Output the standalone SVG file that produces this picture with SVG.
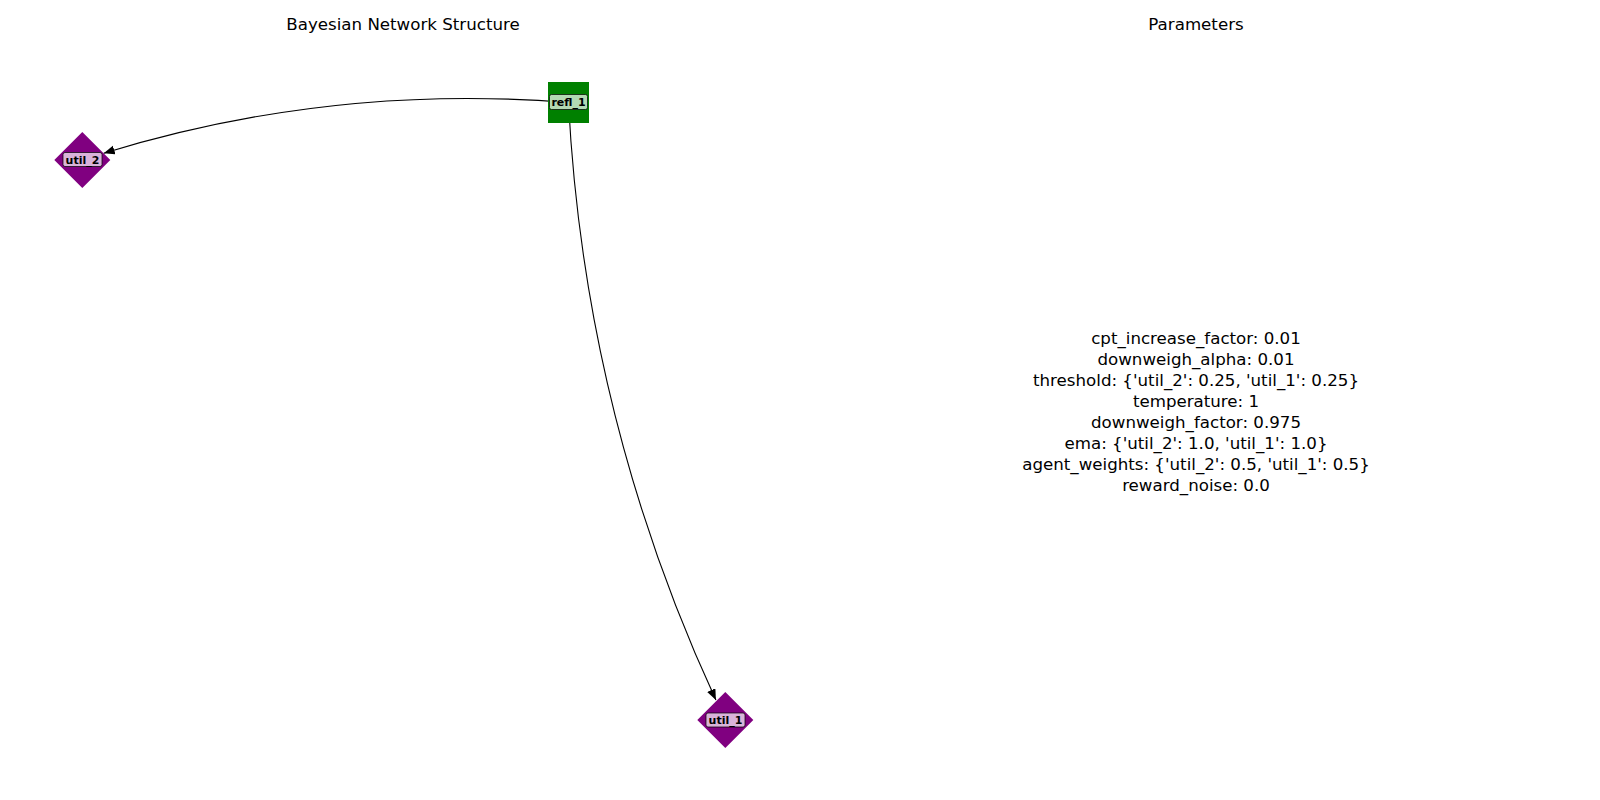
<svg xmlns="http://www.w3.org/2000/svg" width="1600" height="800" viewBox="0 0 1600 800">
<style>
.title{font-family:"DejaVu Sans",sans-serif;font-size:16.67px;fill:#000;text-anchor:middle}
.param{font-family:"DejaVu Sans",sans-serif;font-size:16.67px;fill:#000;text-anchor:middle}
.lbl{font-family:"DejaVu Sans",sans-serif;font-size:11px;font-weight:bold;fill:#000;text-anchor:middle}
.lblbox{fill:#fff;fill-opacity:0.7;stroke:#000;stroke-opacity:0.7;stroke-width:1}
.edge{fill:none;stroke:#000;stroke-width:1.1}
.util{fill:#800080}
.refl{fill:#008000}
</style>
<defs>
<marker id="arrow" markerUnits="userSpaceOnUse" markerWidth="12" markerHeight="10" refX="11" refY="4.5" orient="auto">
<path d="M0,0 L11,4.5 L0,9 z" fill="#000"/>
</marker>
</defs>
<rect x="0" y="0" width="1600" height="800" fill="#fff"/>
<text class="title" x="403" y="30">Bayesian Network Structure</text>
<text class="title" x="1196" y="30">Parameters</text>
<g id="edges">
<path class="edge" d="M568.5,102.5 Q330.8,83.5 103.7,153.2" marker-end="url(#arrow)"/>
<path class="edge" d="M568.5,102.5 Q584.6,415.9 715.9,700.1" marker-end="url(#arrow)"/>
</g>
<g id="node-refl_1">
<rect class="refl" x="548" y="82" width="41" height="41"/>
<rect class="lblbox" x="549.5" y="94.5" width="38" height="15" rx="2"/>
<text class="lbl" x="568.5" y="106">refl_1</text>
</g>
<g id="node-util_2">
<polygon class="util" points="82.3,132 110.3,160 82.3,188 54.3,160"/>
<rect class="lblbox" x="63" y="152.5" width="39" height="14" rx="2"/>
<text class="lbl" x="82.5" y="163.5">util_2</text>
</g>
<g id="node-util_1">
<polygon class="util" points="725.3,692 753.3,720 725.3,748 697.3,720"/>
<rect class="lblbox" x="706" y="713" width="39" height="14" rx="2"/>
<text class="lbl" x="725.5" y="724">util_1</text>
</g>
<g id="parameters">
<text class="param" x="1196" y="343.5">cpt_increase_factor: 0.01</text>
<text class="param" x="1196" y="364.6">downweigh_alpha: 0.01</text>
<text class="param" x="1196" y="385.7">threshold: {'util_2': 0.25, 'util_1': 0.25}</text>
<text class="param" x="1196" y="406.8">temperature: 1</text>
<text class="param" x="1196" y="427.9">downweigh_factor: 0.975</text>
<text class="param" x="1196" y="449">ema: {'util_2': 1.0, 'util_1': 1.0}</text>
<text class="param" x="1196" y="470.1">agent_weights: {'util_2': 0.5, 'util_1': 0.5}</text>
<text class="param" x="1196" y="491.2">reward_noise: 0.0</text>
</g>
</svg>
